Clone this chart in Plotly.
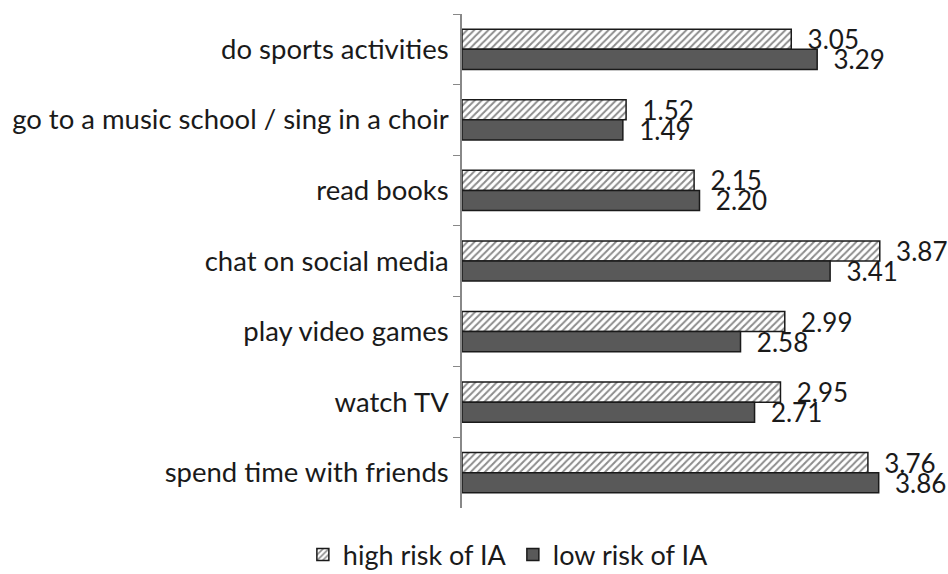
import plotly.graph_objects as go

categories = ["do sports activities", "go to a music school / sing in a choir", "read books",
              "chat on social media", "play video games", "watch TV", "spend time with friends"]
high_risk = [3.05, 1.52, 2.15, 3.87, 2.99, 2.95, 3.76]
low_risk = [3.29, 1.49, 2.20, 3.41, 2.58, 2.71, 3.86]

FONT = "Lato"
FS = 26
PAD = "\u00a0\u00a0"
fig = go.Figure()
fig.add_trace(go.Bar(
    y=categories, x=high_risk, orientation="h", name="high risk of IA",
    marker=dict(color="white", line=dict(color="#1a1a1a", width=1.5),
                pattern=dict(shape="/", fgcolor="#1a1a1a", bgcolor="white", size=5, solidity=0.4)),
    text=[PAD + f"{v:.2f}" for v in high_risk], textposition="outside", cliponaxis=False,
    constraintext="none",
    textfont=dict(size=FS, color="#1a1a1a", family=FONT),
))
fig.add_trace(go.Bar(
    y=categories, x=low_risk, orientation="h", name="low risk of IA",
    marker=dict(color="#595959", line=dict(color="#1a1a1a", width=1.5)),
    text=[PAD + f"{v:.2f}" for v in low_risk], textposition="outside", cliponaxis=False,
    constraintext="none",
    textfont=dict(size=FS, color="#1a1a1a", family=FONT),
))
fig.update_layout(
    width=948, height=574, barmode="group", bargap=0.43, bargroupgap=0,
    plot_bgcolor="white", paper_bgcolor="white",
    margin=dict(l=462, r=11, t=14, b=66, autoexpand=False),
    font=dict(family=FONT, size=FS, color="#1a1a1a"),
    xaxis=dict(range=[0, 4.4], showticklabels=False, showgrid=False, zeroline=False, showline=False,
               automargin=False),
    yaxis=dict(autorange="reversed", showline=True, linecolor="#888888", linewidth=1.5,
               ticks="outside", tickson="boundaries", ticklen=7, tickcolor="#888888",
               tickfont=dict(size=27.5, family=FONT), automargin=False, ticklabelstandoff=6),
    legend=dict(orientation="h", xref="container", x=0.541, xanchor="center",
                yref="container", y=0.033, yanchor="middle", entrywidth=165, itemwidth=30,
                font=dict(size=27, family=FONT)),
    showlegend=True,
)
fig.write_html("out.html", config={"displayModeBar": False},
               post_script="document.body.style.margin='0';document.body.style.overflow='hidden';")
